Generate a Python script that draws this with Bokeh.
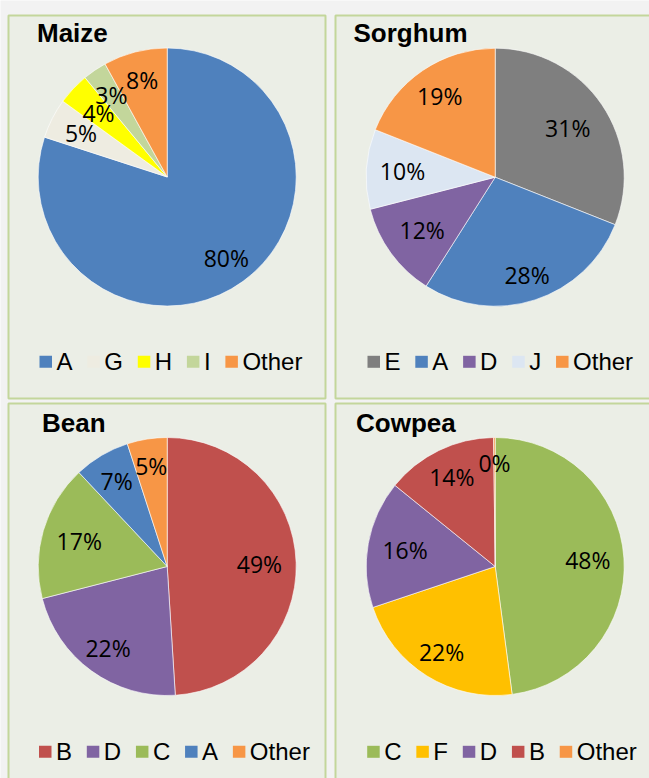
import math
from bokeh.plotting import figure
from bokeh.models import Range1d, ColumnDataSource
from bokeh.core.properties import value
from bokeh.embed import file_html
from bokeh.resources import INLINE

# ---------------- data ----------------
maize_cats = ["A", "G", "H", "I", "Other"]
maize_vals = [80, 5, 4, 3, 8]

sorghum_cats = ["E", "A", "D", "J", "Other"]
sorghum_vals = [31, 28, 12, 10, 19]

bean_cats = ["B", "D", "C", "A", "Other"]
bean_vals = [49, 22, 17, 7, 5]

cowpea_cats = ["C", "F", "D", "B", "Other"]
cowpea_vals = [48, 22, 16, 14, 0.2]

COLORS = {
    "A": "#4F81BD", "B": "#C0504D", "C": "#9BBB59", "D": "#8064A2",
    "E": "#7F7F7F", "F": "#FFC000", "G": "#EEECE1", "H": "#FFFF00",
    "I": "#C3D69B", "J": "#DCE6F2", "Other": "#F79646",
}

# ---------------- layout / style ----------------
W, H = 649, 778
X0, Y0 = 0, 0
R = 129
PANEL_FILL = "#EBEEE6"
PANEL_LINE = "#C3D69B"
LABEL_FONT = "Open Sans"
LABEL_SIZE = 23
LEG_SIZE = 24
TITLE_SIZE = 26

# Arial / Liberation Sans advance widths (em)
CW = {"A": .667, "B": .667, "C": .722, "D": .722, "E": .667, "F": .611,
      "G": .778, "H": .722, "I": .278, "J": .5, "O": .778, "t": .278,
      "h": .556, "e": .556, "r": .333}


def Y(ys):
    """screen y (px from page top) -> data y"""
    return (Y0 + H) - ys


panels = [
    dict(title="Maize", cats=maize_cats, vals=maize_vals,
         box=(8, 15, 325, 398), c=(166.7, 176.5), tpos=(36.5, 42),
         lx=39, ly=361.3, fr=[0.78, 0.75, 0.73, 0.77, 0.78]),
    dict(title="Sorghum", cats=sorghum_cats, vals=sorghum_vals,
         box=(335, 15, 660, 398), c=(494.7, 176.7), tpos=(353, 42),
         lx=367, ly=361.3, fr=[0.68, 0.80, 0.70, 0.72, 0.765]),
    dict(title="Bean", cats=bean_cats, vals=bean_vals,
         box=(8, 403, 325, 790), c=(166.7, 566), tpos=(41.5, 432),
         lx=38.5, ly=751.3, fr=[0.715, 0.78, 0.71, 0.77, 0.79]),
    dict(title="Cowpea", cats=cowpea_cats, vals=cowpea_vals,
         box=(335, 403, 660, 790), c=(494.7, 566), tpos=(355.5, 432),
         lx=366.7, ly=751.3, fr=[0.72, 0.785, 0.71, 0.77, 0.80]),
]

p = figure(width=W, height=H, x_range=Range1d(X0, X0 + W), y_range=Range1d(0, H),
           output_backend="svg", toolbar_location=None, min_border=0,
           x_axis_location=None, y_axis_location=None,
           background_fill_color="#F2F2F2", border_fill_color="#F2F2F2",
           outline_line_color=None)
p.grid.visible = False

for pn in panels:
    l, t, r, b = pn["box"]
    p.quad(left=[l], right=[r], top=[Y(t)], bottom=[Y(b)],
           fill_color=PANEL_FILL, line_color=PANEL_LINE, line_width=2)

    cx, cy = pn["c"]
    vals = pn["vals"]
    cats = pn["cats"]
    total = float(sum(vals))
    starts, ends, cols, lxs, lys, labs = [], [], [], [], [], []
    cum = 0.0
    for i, v in enumerate(vals):
        th0 = 2 * math.pi * cum / total
        th1 = 2 * math.pi * (cum + v) / total
        cum += v
        starts.append(math.pi / 2 - th1)
        ends.append(math.pi / 2 - th0)
        cols.append(COLORS[cats[i]])
        mid = (th0 + th1) / 2
        d = pn["fr"][i] * R
        lxs.append(cx + d * math.sin(mid))
        lys.append(Y(cy - d * math.cos(mid)))
        labs.append(f"{round(100 * v / total)}%")

    src = ColumnDataSource(dict(x=[cx] * len(vals), y=[Y(cy)] * len(vals),
                                s=starts, e=ends, c=cols))
    p.wedge(x="x", y="y", radius=R, start_angle="s", end_angle="e",
            direction="anticlock", fill_color="c", line_color="white",
            line_width=0.6, source=src)

    p.text(x=lxs, y=lys, text=labs, text_font=value(LABEL_FONT),
           text_font_size=value(f"{LABEL_SIZE}px"), text_color="#000000",
           text_align="center", text_baseline="middle")

    # title (position given as baseline -> convert to em-box middle)
    p.text(x=[pn["tpos"][0]], y=[Y(pn["tpos"][1] - 0.35 * TITLE_SIZE)],
           text=[pn["title"]],
           text_font=value("Liberation Sans"), text_font_style="bold",
           text_font_size=value(f"{TITLE_SIZE}px"), text_color="#000000",
           text_align="left", text_baseline="middle")

    # legend
    x = pn["lx"]
    ql, qr, tx = [], [], []
    for cat in cats:
        ql.append(x)
        qr.append(x + 12.5)
        tx.append(x + 17)
        w = sum(CW.get(ch, 0.6) for ch in cat) * LEG_SIZE
        x += 17 + w + 14.8
    n = len(cats)
    p.quad(left=ql, right=qr, top=[Y(pn["ly"] - 6)] * n,
           bottom=[Y(pn["ly"] + 6)] * n, fill_color=cols, line_color=None)
    p.text(x=tx, y=[Y(pn["ly"] - 0.5)] * n, text=cats,
           text_font=value("Liberation Sans"),
           text_font_size=value(f"{LEG_SIZE}px"), text_color="#000000",
           text_align="left", text_baseline="middle")

open("out.html", "w").write(file_html(p, INLINE))
